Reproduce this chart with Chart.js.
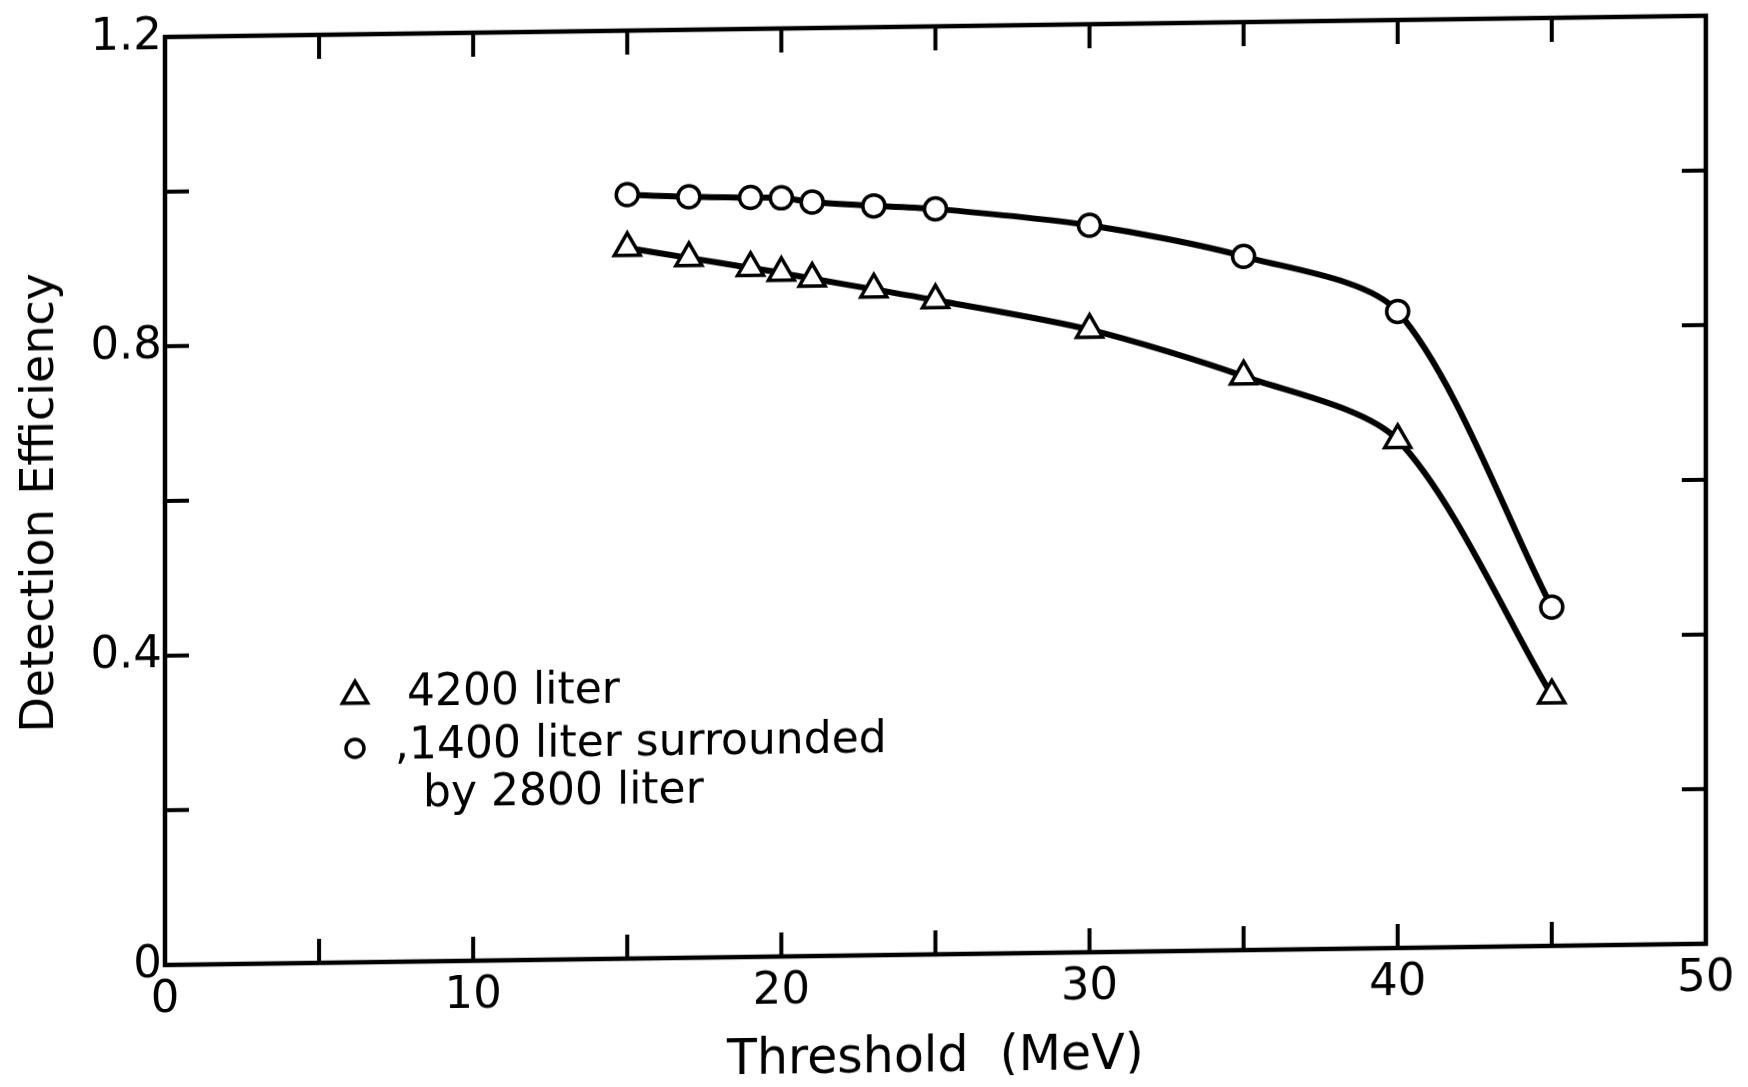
<!DOCTYPE html>
<html>
<head>
<meta charset="utf-8">
<script src="https://cdn.jsdelivr.net/npm/chart.js@4.4.1/dist/chart.umd.min.js"></script>
<style>
  html, body { margin: 0; padding: 0; background: #ffffff; overflow: hidden; }
  #wrap { position: relative; width: 1748px; height: 1087px; background: #ffffff; }
  /* the scanned original is slightly sheared: horizontal lines rise toward the right */
  canvas { display: block; transform-origin: 165px 965px; transform: skewY(-0.79deg); }
</style>
</head>
<body>
<div id="wrap"><canvas id="c" width="1748" height="1087"></canvas></div>
<script>
// ---- data ----
const thresholds = [15, 17, 19, 20, 21, 23, 25, 30, 35, 40, 45];
const eff4200 = [0.919, 0.905, 0.891, 0.884, 0.876, 0.861, 0.846, 0.805, 0.742, 0.657, 0.324];
const eff1400 = [0.988, 0.984, 0.982, 0.981, 0.975, 0.969, 0.964, 0.940, 0.897, 0.823, 0.438];
const seriesNames = ['4200 liter', ',1400 liter surrounded', 'by 2800 liter'];
const xTickLabels = [0, 10, 20, 30, 40, 50];
const yTickLabels = [0, 0.4, 0.8, 1.2];
const xTitle = 'Threshold  (MeV)';
const yTitle = 'Detection Efficiency';

const FONT = "'DejaVu Sans', sans-serif";
const INK = '#000000';

function toPoints(xs, ys) { return xs.map((x, i) => ({ x: x, y: ys[i] })); }

// inward ticks on all four sides + frame
const framePlugin = {
  id: 'frame',
  afterDraw(chart) {
    const ctx = chart.ctx;
    const a = chart.chartArea;
    const xs = chart.scales.x, ys = chart.scales.y;
    const len = 24;
    ctx.save();
    ctx.strokeStyle = INK;
    ctx.lineCap = 'butt';
    ctx.lineWidth = 4;
    xs.ticks.forEach(t => {
      if (t.value <= xs.min || t.value >= xs.max) return;
      const px = xs.getPixelForValue(t.value);
      ctx.beginPath();
      ctx.moveTo(px, a.bottom); ctx.lineTo(px, a.bottom - len);
      ctx.moveTo(px, a.top); ctx.lineTo(px, a.top + len);
      ctx.stroke();
    });
    ys.ticks.forEach(t => {
      if (t.value <= ys.min + 1e-9 || t.value >= ys.max - 1e-9) return;
      const py = ys.getPixelForValue(t.value);
      ctx.beginPath();
      ctx.moveTo(a.left, py); ctx.lineTo(a.left + len, py);
      ctx.moveTo(a.right, py); ctx.lineTo(a.right - len, py);
      ctx.stroke();
    });
    ctx.lineWidth = 4.5;
    ctx.strokeRect(a.left, a.top, a.right - a.left, a.bottom - a.top);
    ctx.restore();
  }
};

// in-plot legend like the original
const legendPlugin = {
  id: 'inlegend',
  afterDraw(chart) {
    const ctx = chart.ctx;
    const a = chart.chartArea;
    const sx = a.left + 190;
    const y1 = a.top + 661;
    const y2 = a.top + 714;
    const y3 = a.top + 762;
    ctx.save();
    ctx.strokeStyle = INK;
    ctx.fillStyle = '#fff';
    ctx.lineWidth = 3.5;
    // triangle symbol
    const r = 14;
    ctx.beginPath();
    ctx.moveTo(sx, y1 - r);
    ctx.lineTo(sx + r * 0.9, y1 + r * 0.55);
    ctx.lineTo(sx - r * 0.9, y1 + r * 0.55);
    ctx.closePath();
    ctx.fill(); ctx.stroke();
    // circle symbol
    ctx.beginPath();
    ctx.arc(sx, y2, 9, 0, Math.PI * 2);
    ctx.fill(); ctx.stroke();
    ctx.fillStyle = INK;
    ctx.font = '44px ' + FONT;
    ctx.textBaseline = 'middle';
    ctx.textAlign = 'left';
    ctx.fillText(seriesNames[0], sx + 52, y1);
    ctx.fillText(seriesNames[1], sx + 40, y2);
    ctx.fillText(seriesNames[2], sx + 68, y3);
    ctx.restore();
  }
};

const ds = (label, data, style) => Object.assign({
  label: label,
  data: data,
  borderColor: INK,
  backgroundColor: '#ffffff',
  borderWidth: 6,
  pointBorderColor: INK,
  pointBackgroundColor: '#ffffff',
  pointBorderWidth: 3.5,
  tension: 0.28,
  fill: false
}, style);

new Chart(document.getElementById('c'), {
  type: 'line',
  data: {
    datasets: [
      ds(seriesNames[0], toPoints(thresholds, eff4200), { pointStyle: 'triangle', pointRadius: 15 }),
      ds(seriesNames[1] + ' ' + seriesNames[2], toPoints(thresholds, eff1400), { pointStyle: 'circle', pointRadius: 11 })
    ]
  },
  options: {
    responsive: false,
    animation: false,
    events: [],
    layout: { padding: { top: 37, right: 42, left: 0, bottom: 0 } },
    plugins: { legend: { display: false }, tooltip: { enabled: false } },
    scales: {
      x: {
        type: 'linear',
        min: 0, max: 50,
        grid: { display: false, drawTicks: false },
        border: { display: false },
        ticks: {
          stepSize: 5,
          padding: 8,
          color: INK,
          font: { family: FONT, size: 45 },
          maxRotation: 0,
          autoSkip: false,
          callback: v => xTickLabels.includes(v) ? String(v) : ''
        },
        title: {
          display: true, text: xTitle, color: INK,
          font: { family: FONT, size: 49, lineHeight: 0.72 },
          padding: { top: 0, bottom: 0 }
        },
        afterFit: s => { s.height = 122; }
      },
      y: {
        type: 'linear',
        min: 0, max: 1.2,
        grid: { display: false, drawTicks: false },
        border: { display: false },
        ticks: {
          stepSize: 0.2,
          padding: 3,
          color: INK,
          font: { family: FONT, size: 45 },
          autoSkip: false,
          callback: v => {
            const m = yTickLabels.find(t => Math.abs(t - v) < 1e-6);
            return m === undefined ? '' : String(m);
          }
        },
        title: {
          display: true, text: yTitle, color: INK,
          font: { family: FONT, size: 46 },
          padding: { top: 13, bottom: 0 }
        },
        afterFit: s => { s.width = 165; }
      }
    }
  },
  plugins: [framePlugin, legendPlugin]
});
</script>
</body>
</html>
